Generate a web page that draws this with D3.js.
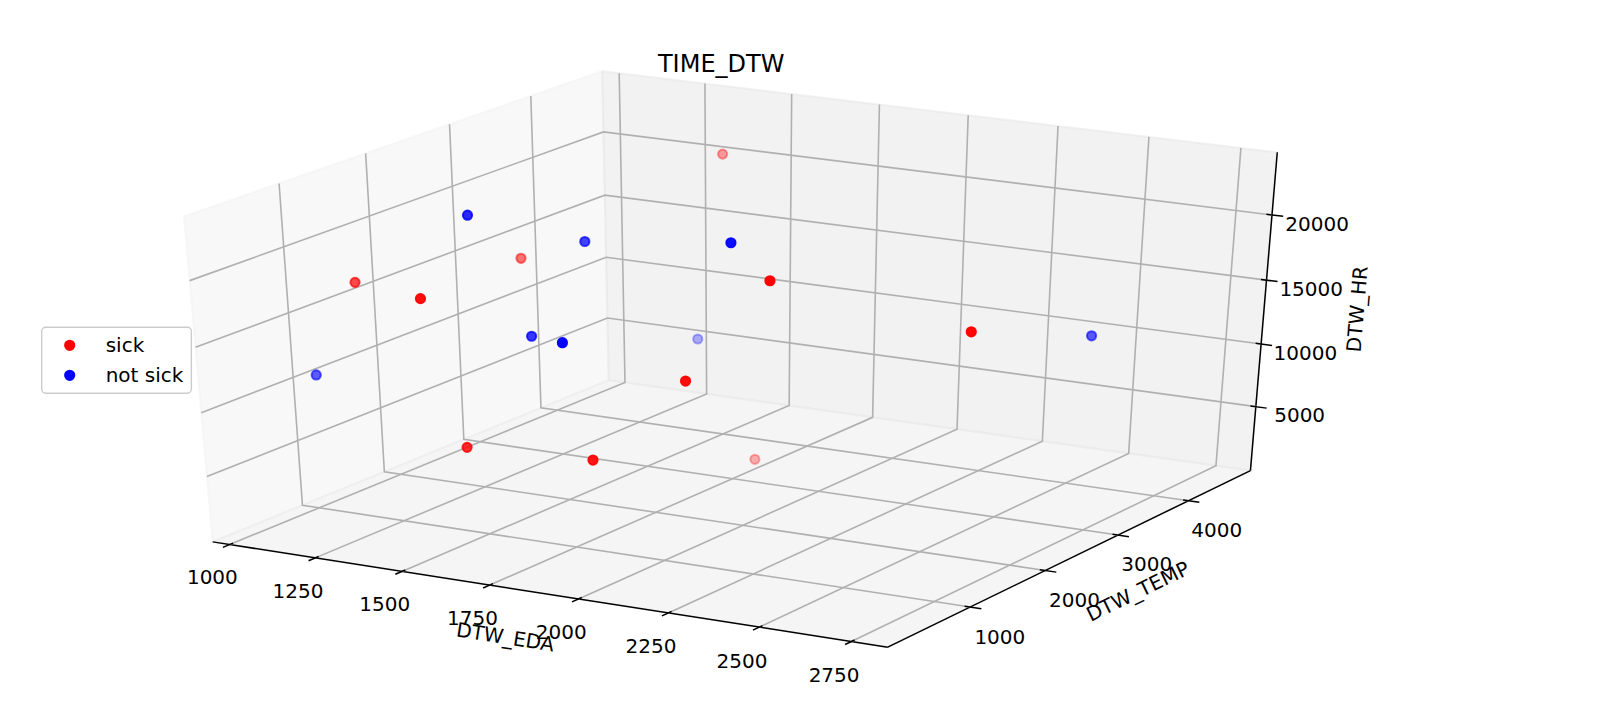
<!DOCTYPE html>
<html>
<head>
<meta charset="utf-8">
<script src="https://cdn.jsdelivr.net/npm/d3@7"></script>
<style>
  body { margin: 0; background: #fff; }
  svg { display: block; font-family: "DejaVu Sans", sans-serif; }
</style>
</head>
<body>
<svg id="chart" width="1600" height="726"></svg>
<script>
// values
const sickEDA  = [1344, 1223, 1088, 1495, 2231, 2677, 2136, 1658, 2013, 1740];
const sickTEMP = [4709, 2662, 1239,  338, 1282, 1720,  681,  123,   97, 3341];
const sickHR   = [19998, 16184, 17247, 19686, 21409, 18227, 15117, 9663, 10201, 414];

const notSickEDA  = [1382, 1524, 2082, 1599, 1930,  995, 1318, 2588];
const notSickTEMP = [1384, 2165, 1482, 1175,  131, 1091, 4485, 3803];
const notSickHR   = [22978, 19703, 23179, 15199, 18569, 10132, 5684, 12416];

const edaTicks  = [1000, 1250, 1500, 1750, 2000, 2250, 2500, 2750];
const tempTicks = [1000, 2000, 3000, 4000];
const hrTicks   = [5000, 10000, 15000, 20000];

const edaLim  = [988, 2810];
const tempLim = [37, 4805];
const hrLim   = [285, 24208];

const width = 1600, height = 726;
const axBox = {left: 29.2, top: 28.1, width: 1384, height: 659.5};
const dpi = 144;
const elev = 30, azim = -60, dist = 10;
const fs = 20;

const svg = d3.select('#chart');
svg.append('rect').attr('width', width).attr('height', height).attr('fill', '#fff');

// data -> unit cube
const norms = [
    d3.scaleLinear().domain(edaLim).range([0, 1]),
    d3.scaleLinear().domain(tempLim).range([0, 1]),
    d3.scaleLinear().domain(hrLim).range([0, 1])
];

// projected view plane -> pixels
const viewX = d3.scaleLinear().domain([-0.095, 0.09]).range([axBox.left, axBox.left + axBox.width]);
const viewY = d3.scaleLinear().domain([-0.095, 0.09]).range([axBox.top + axBox.height, axBox.top]);

// camera, same as mplot3d
const dot = (a, b) => a[0] * b[0] + a[1] * b[1] + a[2] * b[2];
const relev = elev * Math.PI / 180, razim = azim * Math.PI / 180;
const nv = [Math.cos(razim) * Math.cos(relev), Math.sin(razim) * Math.cos(relev), Math.sin(relev)];
let uv = [-nv[1], nv[0], 0];
const ulen = Math.hypot(uv[0], uv[1], uv[2]);
uv = uv.map(c => c / ulen);
const vv = [nv[1] * uv[2] - nv[2] * uv[1], nv[2] * uv[0] - nv[0] * uv[2], nv[0] * uv[1] - nv[1] * uv[0]];

function project(p) {
    const q = p.map(c => c - 0.5);
    const w = dist - dot(nv, q);
    return [viewX(dot(uv, q) / w), viewY(dot(vv, q) / w), -dist / w];
}

const delta = 1 / 12;
const lo = -delta / 4, hi = 1 + delta / 4;

// which side of each axis is far from the eye
const highs = [0, 1, 2].map(i => {
    const avg = side => {
        let s = 0;
        [[lo, lo], [lo, hi], [hi, lo], [hi, hi]].forEach(([a, b]) => {
            const p = [0, 0, 0];
            p[i] = side; p[(i + 1) % 3] = a; p[(i + 2) % 3] = b;
            s += project(p)[2];
        });
        return s / 4;
    };
    return avg(lo) < avg(hi);
});
const minmax = highs.map(h => h ? hi : lo);
const maxmin = highs.map(h => h ? lo : hi);

const axPoints = 72 * (axBox.width + axBox.height) / dpi;
const deltasPerPoint = 48 / axPoints;

const moveFromCenter = (p, d, skip) => p.map((c, j) => j === skip ? c : (c < 0.5 ? c - d : c + d));

// panes
const paneColors = ['rgba(242,242,242,0.5)', 'rgba(230,230,230,0.5)', 'rgba(236,236,236,0.5)'];
const paneG = svg.append('g').attr('class', 'panes');
[0, 1, 2].forEach(i => {
    const pts = [[lo, lo], [hi, lo], [hi, hi], [lo, hi]].map(([a, b]) => {
        const p = [0, 0, 0];
        p[i] = minmax[i]; p[(i + 1) % 3] = a; p[(i + 2) % 3] = b;
        return project(p);
    });
    paneG.append('polygon')
        .attr('points', pts.map(d => d[0] + ',' + d[1]).join(' '))
        .attr('fill', paneColors[i])
        .attr('stroke', paneColors[i])
        .attr('stroke-width', 2);
});

const axesDef = [
    {i: 0, juggled: [1, 0, 2], tickdir: 1, ticks: edaTicks, label: 'DTW_EDA'},
    {i: 1, juggled: [0, 1, 2], tickdir: 0, ticks: tempTicks, label: 'DTW_TEMP'},
    {i: 2, juggled: [0, 2, 1], tickdir: 0, ticks: hrTicks, label: 'DTW_HR'}
];

const axisG = svg.append('g').attr('class', 'axes3d');

axesDef.forEach(ax => {
    const i = ax.i;
    const g = axisG.append('g');
    const e1 = minmax.slice();
    e1[ax.juggled[0]] = maxmin[ax.juggled[0]];
    const e2 = e1.slice();
    e2[ax.juggled[1]] = maxmin[ax.juggled[1]];
    const p1 = project(e1), p2 = project(e2);

    // axis line
    g.append('line')
        .attr('x1', p1[0]).attr('y1', p1[1])
        .attr('x2', p2[0]).attr('y2', p2[1])
        .attr('stroke', '#000').attr('stroke-width', 1.5);

    // axis label
    const mid = e1.map((c, j) => (c + e2[j]) / 2);
    const lp = project(moveFromCenter(mid, (4 + 21) * deltasPerPoint * delta, i));
    let ang = Math.atan2(p2[1] - p1[1], p2[0] - p1[0]) * 180 / Math.PI;
    ang = (ang + 180) % 180;
    if (ang > 90) ang -= 180;
    g.append('text')
        .attr('transform', `translate(${lp[0]},${lp[1]}) rotate(${ang})`)
        .attr('text-anchor', 'middle')
        .attr('dy', 0.2 * fs)
        .attr('font-size', fs)
        .attr('fill', '#000')
        .text(ax.label);

    // grid
    const a = (i + 1) % 3, b = (i + 2) % 3; // python index-2, index-1
    ax.ticks.forEach(t => {
        const base = minmax.slice();
        base[i] = norms[i](t);
        const s0 = base.slice(); s0[a] = maxmin[a];
        const s2 = base.slice(); s2[b] = maxmin[b];
        const pts = [s0, base, s2].map(project);
        g.append('polyline')
            .attr('points', pts.map(d => d[0] + ',' + d[1]).join(' '))
            .attr('fill', 'none')
            .attr('stroke', '#b0b0b0')
            .attr('stroke-width', 1.6);
    });

    // ticks and tick labels
    const sign = highs[ax.tickdir] ? 1 : -1;
    ax.ticks.forEach(t => {
        const pos = e1.slice();
        pos[i] = norms[i](t);
        const out = pos.slice(), inn = pos.slice();
        out[ax.tickdir] = e1[ax.tickdir] + 0.1 * sign * delta;
        inn[ax.tickdir] = e1[ax.tickdir] - 0.2 * sign * delta;
        const t1 = project(out), t2 = project(inn);
        g.append('line')
            .attr('x1', t1[0]).attr('y1', t1[1])
            .attr('x2', t2[0]).attr('y2', t2[1])
            .attr('stroke', '#000').attr('stroke-width', 1.5);
        const tl = project(moveFromCenter(pos, (3.5 + 8) * deltasPerPoint * delta, i));
        g.append('text')
            .attr('x', tl[0])
            .attr('y', tl[1] + 0.93 * fs)
            .attr('text-anchor', 'middle')
            .attr('font-size', fs)
            .attr('fill', '#000')
            .text(t);
    });
});

// scatter series with depth shading
const series = [
    {label: 'sick', color: '#ff0000', xs: sickEDA, ys: sickTEMP, zs: sickHR},
    {label: 'not sick', color: '#0000ff', xs: notSickEDA, ys: notSickTEMP, zs: notSickHR}
];
const markerR = 4.6, markerEdge = 2;

series.forEach(s => {
    s.pts = s.xs.map((x, k) => project([norms[0](x), norms[1](s.ys[k]), norms[2](s.zs[k])]));
    const depth = d3.scaleLinear().domain(d3.extent(s.pts, d => d[2])).range([0, 1]);
    s.pts.forEach(p => p.alpha = 1 - 0.7 * depth(p[2]));
    s.order = d3.min(s.pts, d => d[2]);
});

const pointG = svg.append('g').attr('class', 'points');
series.slice().sort((a, b) => b.order - a.order).forEach(s => {
    pointG.append('g').selectAll('circle')
        .data(s.pts)
        .join('circle')
        .attr('cx', d => d[0])
        .attr('cy', d => d[1])
        .attr('r', markerR)
        .attr('fill', s.color)
        .attr('fill-opacity', d => d.alpha)
        .attr('stroke', s.color)
        .attr('stroke-opacity', d => d.alpha)
        .attr('stroke-width', markerEdge);
});

// title
svg.append('text')
    .attr('x', axBox.left + axBox.width / 2)
    .attr('y', 72.3)
    .attr('text-anchor', 'middle')
    .attr('font-size', 24)
    .attr('fill', '#000')
    .text('TIME_DTW');

// legend
const leg = {x: 41.7, y: 327.3, pad: 8, row: 20, gap: 10, handle: 40, textPad: 16};
const legG = svg.append('g').attr('class', 'legend');
const frame = legG.append('rect');
const items = legG.selectAll('g.item')
    .data(series)
    .join('g')
    .attr('class', 'item')
    .attr('transform', (d, k) => `translate(0,${leg.y + leg.pad + leg.row / 2 + k * (leg.row + leg.gap)})`);
items.append('circle')
    .attr('cx', leg.x + leg.pad + leg.handle / 2)
    .attr('cy', 0)
    .attr('r', markerR)
    .attr('fill', d => d.color)
    .attr('stroke', d => d.color)
    .attr('stroke-width', markerEdge);
items.append('text')
    .attr('x', leg.x + leg.pad + leg.handle + leg.textPad)
    .attr('y', 7)
    .attr('font-size', fs)
    .attr('fill', '#000')
    .text(d => d.label);
let textW = 0;
items.selectAll('text').each(function () { textW = Math.max(textW, this.getComputedTextLength()); });
frame
    .attr('x', leg.x).attr('y', leg.y)
    .attr('width', leg.pad * 2 + leg.handle + leg.textPad + textW)
    .attr('height', leg.pad * 2 + leg.row * series.length + leg.gap * (series.length - 1))
    .attr('rx', 4).attr('ry', 4)
    .attr('fill', 'rgba(255,255,255,0.8)')
    .attr('stroke', '#cccccc')
    .attr('stroke-width', 1.4);
</script>
</body>
</html>
